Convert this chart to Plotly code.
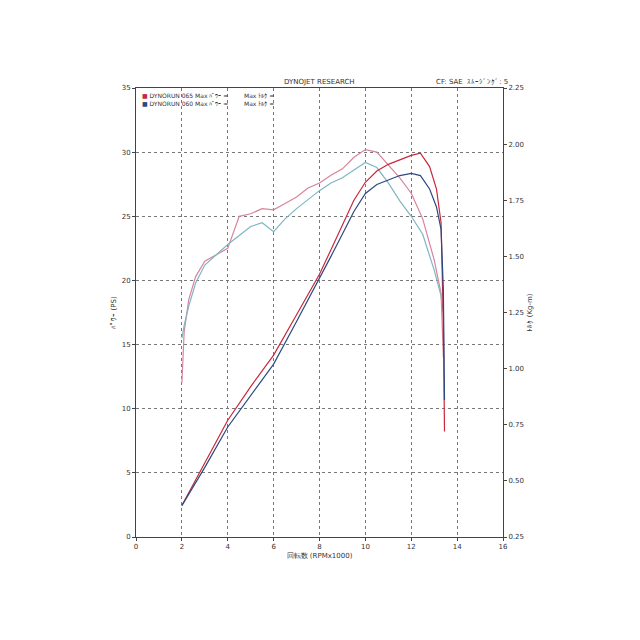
import plotly.graph_objects as go

# rpm x1000
rpm_red_p = [2.0, 2.1, 2.3, 2.6, 3.0, 3.5, 4.0, 4.5, 5.0, 5.5, 6.0, 6.5, 7.0, 7.5, 8.0, 8.5, 9.0, 9.5, 10.0, 10.5, 11.0, 11.5, 12.0, 12.5, 13.0, 13.3, 13.4]
pow_red = [12.0, 16.0, 18.5, 20.3, 21.5, 22.0, 22.5, 25.0, 25.2, 25.6, 25.5, 26.0, 26.5, 27.2, 27.6, 28.2, 28.7, 29.6, 30.2, 30.0, 29.0, 28.0, 26.8, 24.8, 21.6, 19.0, 14.0]
rpm_blue_p = [2.0, 2.1, 2.3, 2.6, 3.0, 3.5, 4.0, 4.5, 5.0, 5.5, 6.0, 6.5, 7.0, 7.5, 8.0, 8.5, 9.0, 9.5, 10.0, 10.5, 11.0, 11.5, 12.0, 12.5, 13.0, 13.3, 13.4]
pow_blue = [15.5, 16.5, 18.0, 19.8, 21.2, 22.0, 22.8, 23.5, 24.2, 24.5, 23.8, 24.8, 25.6, 26.3, 27.0, 27.6, 28.0, 28.6, 29.2, 28.8, 27.6, 26.2, 25.0, 23.6, 20.8, 18.8, 17.5]

rpm_red_t = [2.0, 3.0, 4.0, 5.0, 6.0, 7.0, 8.0, 8.5, 9.0, 9.5, 10.0, 10.5, 11.0, 11.5, 12.0, 12.4, 12.8, 13.1, 13.3, 13.4, 13.45]
trq_red = [0.39, 0.58, 0.77, 0.92, 1.06, 1.24, 1.42, 1.53, 1.64, 1.75, 1.83, 1.88, 1.91, 1.93, 1.95, 1.96, 1.90, 1.80, 1.65, 1.20, 0.72]
rpm_blue_t = [2.0, 3.0, 4.0, 5.0, 6.0, 7.0, 8.0, 8.5, 9.0, 9.5, 10.0, 10.5, 11.0, 11.5, 12.0, 12.4, 12.8, 13.1, 13.3, 13.4, 13.45]
trq_blue = [0.39, 0.56, 0.74, 0.88, 1.02, 1.21, 1.40, 1.50, 1.60, 1.70, 1.78, 1.82, 1.84, 1.86, 1.87, 1.86, 1.80, 1.72, 1.62, 1.35, 0.86]

RED_P, BLUE_P = "#d7849c", "#7fb6c4"
RED_T, BLUE_T = "#c8283c", "#2c4a80"

fig = go.Figure()
fig.add_trace(go.Scatter(x=rpm_red_p, y=pow_red, mode="lines", line=dict(color=RED_P, width=1.2)))
fig.add_trace(go.Scatter(x=rpm_blue_p, y=pow_blue, mode="lines", line=dict(color=BLUE_P, width=1.2)))
fig.add_trace(go.Scatter(x=rpm_red_t, y=trq_red, mode="lines", yaxis="y2", line=dict(color=RED_T, width=1.2)))
fig.add_trace(go.Scatter(x=rpm_blue_t, y=trq_blue, mode="lines", yaxis="y2", line=dict(color=BLUE_T, width=1.2)))

ax_font = dict(family="DejaVu Sans", size=7, color="#333")
fig.update_layout(
    width=640, height=640, showlegend=False,
    paper_bgcolor="white", plot_bgcolor="white",
    margin=dict(l=128, r=145, t=80, b=111),
    font=ax_font,
    xaxis=dict(range=[0, 16], dtick=2, showgrid=True, griddash="dot", gridcolor="#777", automargin=False,
               showline=True, linecolor="#444", mirror=True, ticks="outside", ticklen=3,
               zeroline=False, title=dict(text="回転数 (RPMx1000)", font=ax_font, standoff=2)),
    yaxis=dict(range=[0, 35], dtick=5, showgrid=True, griddash="dot", gridcolor="#777", automargin=False,
               showline=True, linecolor="#444", ticks="outside", ticklen=3, zeroline=False,
               title=dict(text="ﾊﾟﾜｰ (PS)", font=ax_font, standoff=4)),
    yaxis2=dict(range=[0.25, 2.25], dtick=0.25, tickformat=".2f", overlaying="y", side="right",
                showgrid=False, showline=True, linecolor="#444", ticks="outside", ticklen=3,
                zeroline=False, automargin=False, title=dict(text="ﾄﾙｸ (Kg-m)", font=ax_font, standoff=4)),
)
fig.add_annotation(x=0.5, y=1.0, xref="paper", yref="paper", yanchor="bottom", showarrow=False,
                   text="DYNOJET RESEARCH", font=ax_font)
fig.add_annotation(x=1.02, y=1.0, xref="paper", yref="paper", xanchor="right", yanchor="bottom",
                   showarrow=False, text="CF: SAE  ｽﾑｰｼﾞﾝｸﾞ: 5", font=ax_font)
fig.add_annotation(x=0.01, y=0.995, xref="paper", yref="paper", xanchor="left", yanchor="top",
                   showarrow=False, align="left", font=dict(family="DejaVu Sans", size=6, color="#333"),
                   text="<span style='color:#c8283c'>■</span> DYNORUN 065 Max ﾊﾟﾜｰ =<br>"
                        "<span style='color:#2c4a80'>■</span> DYNORUN 060 Max ﾊﾟﾜｰ =")
fig.add_annotation(x=0.29, y=0.995, xref="paper", yref="paper", xanchor="left", yanchor="top",
                   showarrow=False, align="left", font=dict(family="DejaVu Sans", size=6, color="#333"),
                   text="Max ﾄﾙｸ =<br>Max ﾄﾙｸ =")

fig.write_html("out.html")
